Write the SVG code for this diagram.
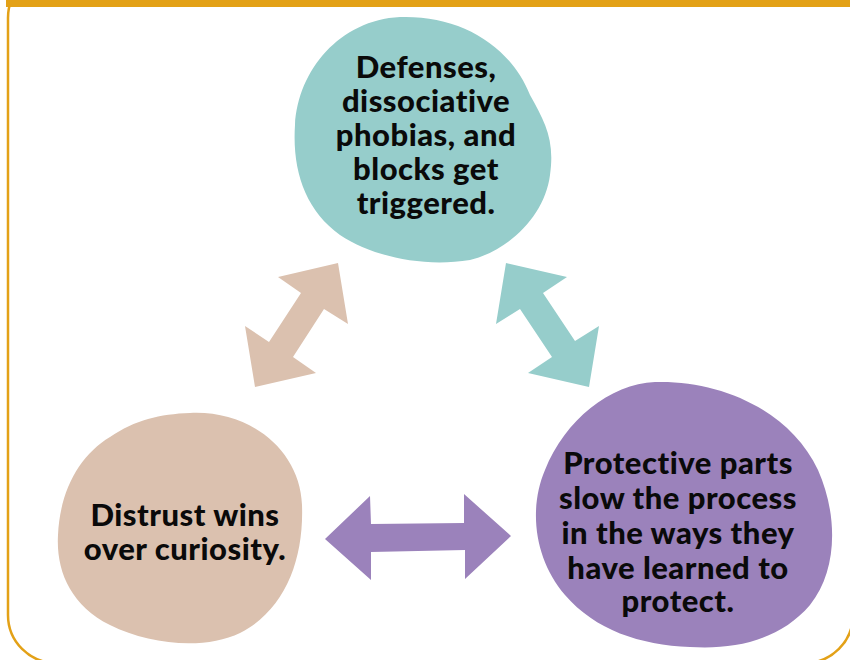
<svg xmlns="http://www.w3.org/2000/svg" width="850" height="660" viewBox="0 0 850 660">
<style>
.lbl{font-family:Lato,"Open Sans","Liberation Sans",sans-serif;font-weight:900;font-size:31px;letter-spacing:0.5px;fill:#0a0a0a;text-anchor:middle;font-variant-ligatures:none}
.teal{fill:#96cdcb}
.tan{fill:#dbc1af}
.purple{fill:#9b82bb}
</style>
<rect x="0" y="0" width="850" height="660" fill="#ffffff"/>
<g id="frame">
<rect x="8" y="-30" width="845" height="693" rx="48" ry="48" fill="none" stroke="#e3a117" stroke-width="2.5"/>
<rect x="6" y="0" width="844" height="7" fill="#e3a117"/>
</g>
<g id="connectors">
<polygon class="tan" points="338,263 348,324 324,309 293,357 316,373 255,387 245,326 269,342 301,293 278,277"/>
<polygon class="teal" points="506,263 567,277 543,293 575,341 599,326 589,387 528,373 552,357 520,309 496,324"/>
<polygon class="purple" points="325,539 370,496 371,524 464,523 464,494 511,536 465,579 465,550 371,552 371,580"/>
</g>
<g id="node-defenses">
<path class="teal" d="M400 17 C460 15 510 45 530 95 C545 122 555 140 550 175 C545 215 510 250 470 260 C420 268 370 255 340 235 C305 210 292 170 295 125 C298 70 340 20 400 17 Z"/>
<text class="lbl" x="426" y="78">Defenses,</text>
<text class="lbl" x="426" y="112">dissociative</text>
<text class="lbl" x="426" y="146">phobias, and</text>
<text class="lbl" x="426" y="180">blocks get</text>
<text class="lbl" x="426" y="214">triggered.</text>
</g>
<g id="node-distrust">
<path class="tan" d="M190 413 C250 410 300 450 302 505 C304 560 285 610 240 633 C205 650 150 645 110 625 C70 605 56 570 58 535 C60 490 80 455 110 437 C135 420 160 414 190 413 Z"/>
<text class="lbl" x="185" y="526">Distrust wins</text>
<text class="lbl" x="185" y="560">over curiosity.</text>
</g>
<g id="node-protective">
<path class="purple" d="M655 382 C720 380 790 410 818 470 C838 515 838 570 810 605 C780 640 735 650 690 647 C640 645 595 630 565 595 C535 560 528 510 545 470 C565 420 610 384 655 382 Z"/>
<text class="lbl" x="678" y="474">Protective parts</text>
<text class="lbl" x="678" y="509">slow the process</text>
<text class="lbl" x="678" y="544">in the ways they</text>
<text class="lbl" x="678" y="579">have learned to</text>
<text class="lbl" x="678" y="612">protect.</text>
</g>
</svg>
